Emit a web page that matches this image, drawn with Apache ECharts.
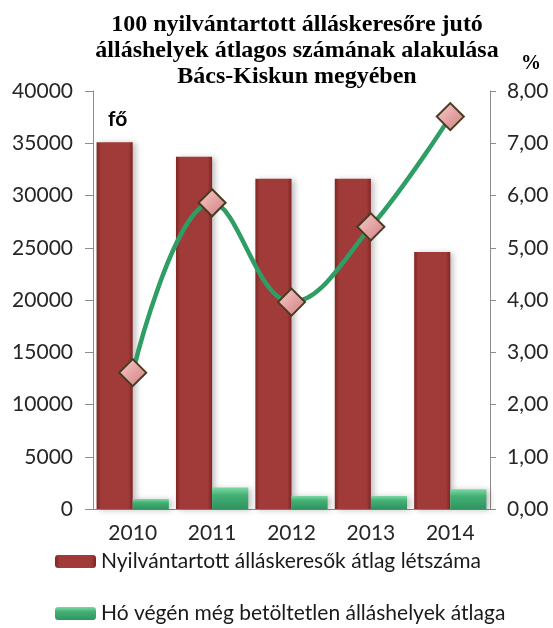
<!DOCTYPE html>
<html>
<head>
<meta charset="utf-8">
<script src="https://cdn.jsdelivr.net/npm/echarts@6/dist/echarts.min.js"></script>
<style>
  html, body { margin: 0; padding: 0; background: #fff; }
  #chart { width: 553px; height: 628px; }
</style>
</head>
<body>
<div id="chart"></div>
<script>
// years on the x axis
var years = ['2010', '2011', '2012', '2013', '2014'];
// registered job seekers, persons (left axis)
var jobSeekers = [35100, 33700, 31600, 31600, 24600];
// vacancies still open at month end (left axis)
var vacancies = [950, 2050, 1250, 1250, 1900];
// vacancies per 100 job seekers, % (right axis)
var ratio = [2.61, 5.86, 3.96, 5.40, 7.51];

var seekerName = 'Nyilvántartott álláskeresők átlag létszáma';
var vacancyName = 'Hó végén még betöltetlen álláshelyek átlaga';

var chart = echarts.init(document.getElementById('chart'));

var labelFont = 'Lato, "Open Sans", sans-serif';
var legendText = {
    fontFamily: labelFont,
    fontSize: 21,
    color: '#1a1a1a'
};

var option = {
    backgroundColor: '#fff',
    animation: false,
    title: {
        text: '100 nyilvántartott álláskeresőre jutó\nálláshelyek átlagos számának alakulása\nBács-Kiskun megyében',
        left: 292,
        top: 7,
        textAlign: 'center',
        textStyle: {
            fontFamily: '"Liberation Serif", serif',
            fontWeight: 'bold',
            fontSize: 24,
            lineHeight: 26,
            color: '#000'
        }
    },
    grid: {
        left: 93,
        right: 63,
        top: 91,
        bottom: 119
    },
    // two legends so each sits on its own row like the original
    legend: [
        {
            left: 55,
            top: 551,
            padding: 0,
            itemWidth: 41,
            itemHeight: 13,
            itemGap: 3,
            data: [seekerName],
            textStyle: legendText
        },
        {
            left: 55,
            top: 603,
            padding: 0,
            itemWidth: 41,
            itemHeight: 13,
            itemGap: 3,
            data: [vacancyName],
            textStyle: legendText
        }
    ],
    graphic: [
        {
            type: 'text',
            left: 108,
            top: 109,
            style: {
                text: 'fő',
                font: 'bold 21px ' + labelFont,
                fill: '#000'
            }
        },
        {
            type: 'text',
            left: 521,
            top: 54,
            style: {
                text: '%',
                font: 'bold 20px "Liberation Serif", serif',
                fill: '#000'
            }
        }
    ],
    xAxis: {
        type: 'category',
        data: years,
        axisLine: { lineStyle: { color: '#8c8c8c', width: 1 } },
        axisTick: { length: 8, lineStyle: { color: '#8c8c8c' } },
        axisLabel: {
            margin: 14,
            fontFamily: labelFont,
            fontSize: 21,
            color: '#262626'
        }
    },
    yAxis: [
        {
            type: 'value',
            min: 0,
            max: 40000,
            interval: 5000,
            axisLine: { show: true, lineStyle: { color: '#8c8c8c' } },
            axisTick: { show: true, length: 8, lineStyle: { color: '#8c8c8c' } },
            splitLine: { show: false },
            axisLabel: {
                margin: 20,
                fontFamily: labelFont,
                fontSize: 21,
                color: '#262626',
                formatter: function (v) {
                    return String(v);
                }
            }
        },
        {
            type: 'value',
            min: 0,
            max: 8,
            interval: 1,
            position: 'right',
            axisLine: { show: true, lineStyle: { color: '#8c8c8c' } },
            axisTick: { show: true, length: 6, lineStyle: { color: '#8c8c8c' } },
            splitLine: { show: false },
            axisLabel: {
                margin: 17,
                fontFamily: labelFont,
                fontSize: 21,
                color: '#262626',
                formatter: function (v) {
                    return v.toFixed(2).replace('.', ',');
                }
            }
        }
    ],
    series: [
        {
            name: seekerName,
            type: 'bar',
            yAxisIndex: 0,
            data: jobSeekers,
            barGap: '0%',
            barCategoryGap: '9%',
            itemStyle: {
                color: new echarts.graphic.LinearGradient(0, 0, 1, 0, [
                    { offset: 0, color: '#7e2624' },
                    { offset: 0.12, color: '#a03b39' },
                    { offset: 0.88, color: '#a03b39' },
                    { offset: 1, color: '#7e2624' }
                ]),
                shadowColor: 'rgba(0,0,0,0.25)',
                shadowBlur: 6,
                shadowOffsetX: 3,
                shadowOffsetY: 1
            }
        },
        {
            name: vacancyName,
            type: 'bar',
            yAxisIndex: 0,
            data: vacancies,
            itemStyle: {
                color: new echarts.graphic.LinearGradient(0, 0, 0, 1, [
                    { offset: 0, color: '#7fd9a4' },
                    { offset: 0.35, color: '#44b175' },
                    { offset: 1, color: '#2f9460' }
                ]),
                shadowColor: 'rgba(0,0,0,0.25)',
                shadowBlur: 6,
                shadowOffsetX: 3,
                shadowOffsetY: 1
            }
        },
        {
            name: 'arány',
            type: 'line',
            yAxisIndex: 1,
            data: ratio,
            smooth: 0.4,
            symbol: 'diamond',
            symbolSize: 27,
            z: 5,
            lineStyle: {
                color: '#2e9e64',
                width: 4.5
            },
            itemStyle: {
                color: new echarts.graphic.LinearGradient(0, 0, 1, 1, [
                    { offset: 0, color: '#f6d3d3' },
                    { offset: 0.5, color: '#e6a3a3' },
                    { offset: 1, color: '#c98383' }
                ]),
                borderColor: '#4a3b20',
                borderWidth: 2
            }
        }
    ]
};

chart.setOption(option);
</script>
</body>
</html>
